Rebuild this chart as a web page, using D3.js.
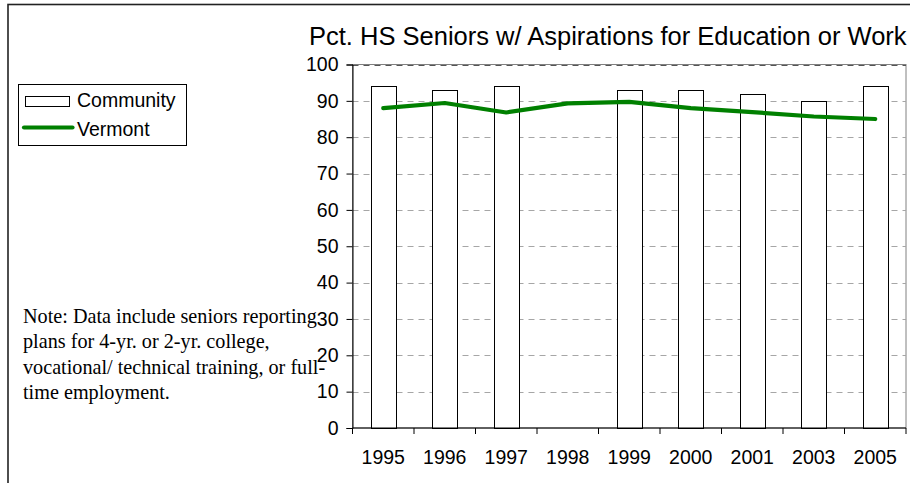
<!DOCTYPE html>
<html>
<head>
<meta charset="utf-8">
<script src="https://cdn.jsdelivr.net/npm/d3@7/dist/d3.min.js"></script>
<style>
  html, body { margin: 0; padding: 0; background: #fff; }
  svg { display: block; }
</style>
</head>
<body>
<svg id="chart" width="910" height="483"></svg>
<script>
// Survey years (categories along the x axis)
const years = ["1995", "1996", "1997", "1998", "1999", "2000", "2001", "2003", "2005"];
// Community percentages (no survey result in 1998)
const community = [94, 93, 94, null, 93, 93, 92, 90, 94];
// Statewide Vermont percentages
const vermont = [88, 89.4, 86.8, 89.3, 89.7, 88, 86.9, 85.7, 85];
// Y axis tick values
const yTicks = [0, 10, 20, 30, 40, 50, 60, 70, 80, 90, 100];

const titleText = "Pct. HS Seniors w/ Aspirations for Education or Work";
const noteLines = [
  "Note: Data include seniors reporting",
  "plans for 4-yr. or 2-yr. college,",
  "vocational/ technical training, or full-",
  "time employment."
];

const svg = d3.select("#chart");
const plot = { left: 352.5, right: 906, top: 64.5, bottom: 428 };

const x = d3.scaleBand().domain(years).range([plot.left, plot.right]).paddingInner(0).paddingOuter(0);
const y = d3.scaleLinear().domain([0, 100]).range([plot.bottom, plot.top]);

// Outer frame
svg.append("rect")
  .attr("x", 8).attr("y", 4.5).attr("width", 1000).attr("height", 1000)
  .attr("fill", "none").attr("stroke", "#222").attr("stroke-width", 1.6);

// Title
svg.append("text")
  .attr("x", 309).attr("y", 45)
  .attr("font-family", "Liberation Sans, Arial, sans-serif")
  .attr("font-size", 25.5)
  .attr("fill", "#000")
  .text(titleText);

// Plot frame
svg.append("rect")
  .attr("x", plot.left).attr("y", plot.top)
  .attr("width", plot.right - plot.left).attr("height", plot.bottom - plot.top)
  .attr("fill", "#fff").attr("stroke", "#808080").attr("stroke-width", 1);

// Horizontal dashed gridlines
svg.append("g")
  .selectAll("line")
  .data(yTicks.filter(d => d > 0))
  .join("line")
  .attr("x1", plot.left).attr("x2", plot.right)
  .attr("y1", d => Math.round(y(d)) + 0.5).attr("y2", d => Math.round(y(d)) + 0.5)
  .attr("stroke", d => d === 100 ? "#555" : "#a6a6a6")
  .attr("stroke-width", 1)
  .attr("stroke-dasharray", "6,5");

// Community bars
const barW = x.bandwidth() * 0.4;
svg.append("g")
  .selectAll("rect")
  .data(years.map((yr, i) => ({ yr, v: community[i] })).filter(d => d.v != null))
  .join("rect")
  .attr("x", d => Math.round(x(d.yr) + (x.bandwidth() - barW) / 2) + 0.5)
  .attr("y", d => Math.round(y(d.v)) + 0.5)
  .attr("width", Math.round(barW))
  .attr("height", d => Math.round(y(0)) - Math.round(y(d.v)))
  .attr("fill", "#fff")
  .attr("stroke", "#000")
  .attr("stroke-width", 1);

// Vermont line
const line = d3.line()
  .x((d, i) => x(years[i]) + x.bandwidth() / 2)
  .y(d => y(d));
svg.append("path")
  .datum(vermont)
  .attr("d", line)
  .attr("fill", "none")
  .attr("stroke", "#008000")
  .attr("stroke-width", 4.2)
  .attr("stroke-linejoin", "round")
  .attr("stroke-linecap", "round");

// Y axis
const yAxis = d3.axisLeft(y).tickValues(yTicks).tickSize(6).tickPadding(8).tickFormat(d3.format("d"));
const gy = svg.append("g").attr("transform", `translate(${plot.left},0)`).call(yAxis);
gy.select(".domain").attr("stroke", "#000");
gy.selectAll(".tick line").attr("stroke", "#000");
gy.selectAll(".tick text")
  .attr("font-family", "Liberation Sans, Arial, sans-serif")
  .attr("font-size", 19.5)
  .attr("fill", "#000");

// X axis with ticks at category boundaries
const gx = svg.append("g").attr("transform", `translate(0,${plot.bottom})`);
gx.append("line")
  .attr("x1", plot.left).attr("x2", plot.right)
  .attr("y1", 0).attr("y2", 0)
  .attr("stroke", "#000");
const bounds = years.map(yr => x(yr)).concat([plot.right]);
gx.selectAll("line.tk")
  .data(bounds)
  .join("line")
  .attr("class", "tk")
  .attr("x1", d => d).attr("x2", d => d)
  .attr("y1", 0).attr("y2", 6)
  .attr("stroke", "#000");
gx.selectAll("text")
  .data(years)
  .join("text")
  .attr("x", d => x(d) + x.bandwidth() / 2)
  .attr("y", 36)
  .attr("text-anchor", "middle")
  .attr("font-family", "Liberation Sans, Arial, sans-serif")
  .attr("font-size", 19.5)
  .attr("fill", "#000")
  .text(d => d);

// Legend
const lg = svg.append("g");
lg.append("rect")
  .attr("x", 18.5).attr("y", 84.5).attr("width", 168).attr("height", 61)
  .attr("fill", "#fff").attr("stroke", "#000").attr("stroke-width", 1);
lg.append("rect")
  .attr("x", 25.5).attr("y", 96.5).attr("width", 44).attr("height", 10)
  .attr("fill", "#fff").attr("stroke", "#000").attr("stroke-width", 1);
lg.append("text")
  .attr("x", 77).attr("y", 107)
  .attr("font-family", "Liberation Sans, Arial, sans-serif")
  .attr("font-size", 19.5)
  .text("Community");
lg.append("line")
  .attr("x1", 24).attr("x2", 72.5).attr("y1", 127.5).attr("y2", 127.5)
  .attr("stroke", "#008000").attr("stroke-width", 4.2).attr("stroke-linecap", "round");
lg.append("text")
  .attr("x", 77).attr("y", 136)
  .attr("font-family", "Liberation Sans, Arial, sans-serif")
  .attr("font-size", 19.5)
  .text("Vermont");

// Note text
svg.append("g")
  .selectAll("text")
  .data(noteLines)
  .join("text")
  .attr("x", 23)
  .attr("y", (d, i) => 323 + i * 25.3)
  .attr("font-family", "Liberation Serif, Times New Roman, serif")
  .attr("font-size", 20.2)
  .attr("fill", "#000")
  .text(d => d);
</script>
</body>
</html>
